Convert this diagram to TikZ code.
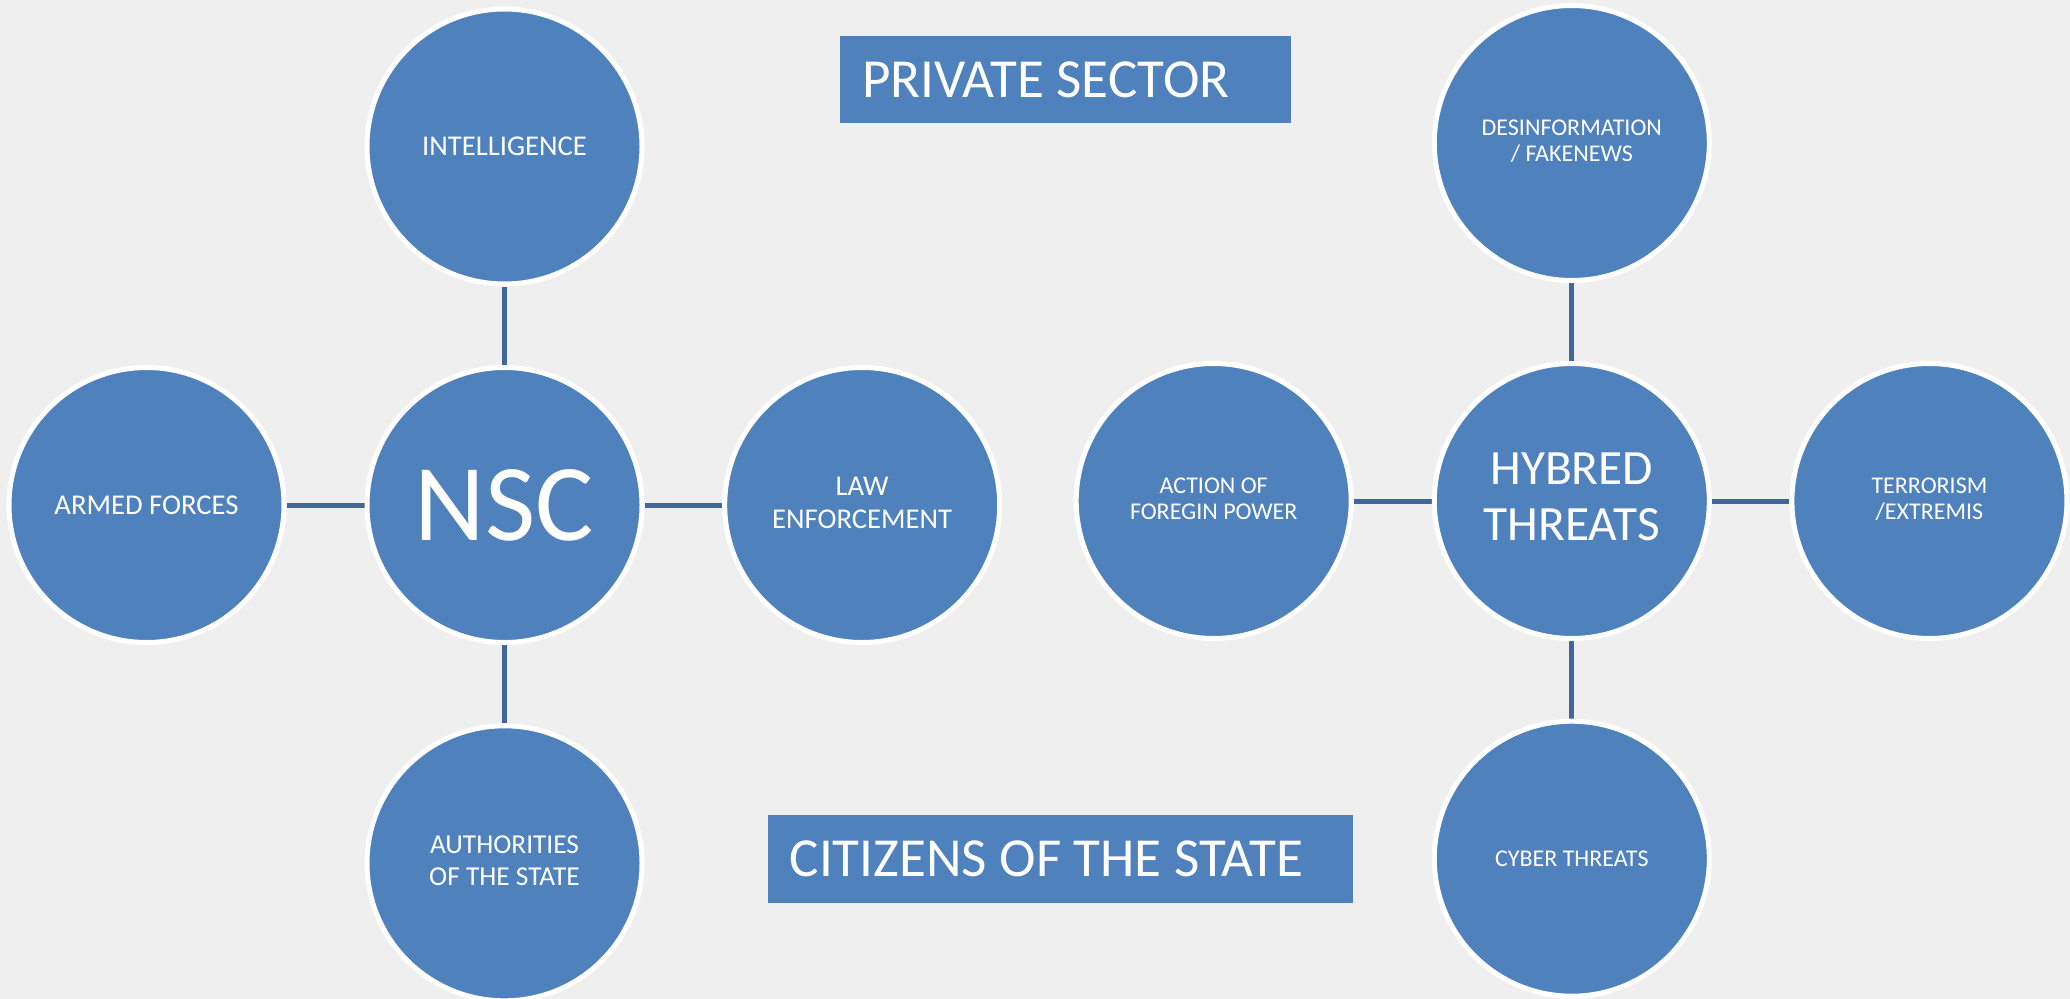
\documentclass[tikz,border=0pt]{standalone}
\usepackage{fontspec}
\setmainfont{Carlito}
\usetikzlibrary{backgrounds}

\definecolor{pagebg}{HTML}{EFEFEF}
\definecolor{bubblefill}{HTML}{4F81BD}
\definecolor{linkcolor}{HTML}{41679A}

% centred multi-line label with the font's own word spacing
\newcommand{\twoline}[1]{\begin{tabular}{@{}c@{}}#1\end{tabular}}

\tikzset{
  bubble/.style={circle, fill=bubblefill, draw=white, line width=3.75pt,
    minimum size=206.25pt, inner sep=0pt, text=white},
  lblmd/.style={font=\fontsize{21.5}{25}\selectfont},
  lblau/.style={font=\fontsize{20.5}{24.2}\selectfont},
  lblsm/.style={font=\fontsize{18}{20}\selectfont},
  lblhub/.style={font=\fontsize{37}{42.2}\selectfont},
  lblbig/.style={font=\fontsize{82}{90}\selectfont},
  banner/.style={fill=bubblefill, text=white, inner xsep=16.5pt, inner ysep=0pt,
    minimum height=65.6pt, font=\fontsize{41.3}{48}\selectfont},
  linkline/.style={draw=linkcolor, line width=3.75pt}
}

\begin{document}
\begin{tikzpicture}[x=0.75pt, y=-0.75pt]
  \useasboundingbox (0,0) rectangle (2070,999);

  % national security cluster
  \node[bubble, lblbig] (nsc)   at (504.5,505)   {NSC};
  \node[bubble, lblmd]  (intel) at (504.5,146.5) {INTELLIGENCE};
  \node[bubble, lblmd]  (armed) at (146.5,505)   {ARMED FORCES};
  \node[bubble, lblmd]  (law)   at (862.2,505)   {\twoline{LAW\\ENFORCEMENT}};
  \node[bubble, lblau]  (auth)  at (504.5,863.3) {\twoline{AUTHORITIES\\OF THE STATE}};

  % threats cluster
  \node[bubble, lblhub] (hyb)    at (1571.8,501)   {\twoline{HYBRED\\THREATS}};
  \node[bubble, lblsm]  (desin)  at (1571.8,143)   {\twoline{DESINFORMATION\\/ FAKENEWS}};
  \node[bubble, lblsm]  (action) at (1213.7,501)   {\twoline{ACTION OF\\FOREGIN POWER}};
  \node[bubble, lblsm]  (terror) at (1929.4,501)   {\twoline{TERRORISM\\/EXTREMIS}};
  \node[bubble, lblsm]  (cyber)  at (1571.8,858.7) {CYBER THREATS};

  % banners
  \node[banner] (private)  at (1065.35,79.65)  {\makebox[305pt][l]{PRIVATE SECTOR}};
  \node[banner] (citizens) at (1060.45,858.85) {\makebox[406.1pt][l]{CITIZENS OF THE STATE}};

  % page colour and connectors, behind the circles
  \begin{pgfonlayer}{background}
    \fill[pagebg] (0,0) rectangle (2070,999);
    \draw[linkline] (nsc) -- (intel);
    \draw[linkline] (nsc) -- (armed);
    \draw[linkline] (nsc) -- (law);
    \draw[linkline] (nsc) -- (auth);
    \draw[linkline] (hyb) -- (desin);
    \draw[linkline] (hyb) -- (action);
    \draw[linkline] (hyb) -- (terror);
    \draw[linkline] (hyb) -- (cyber);
  \end{pgfonlayer}
\end{tikzpicture}
\end{document}
